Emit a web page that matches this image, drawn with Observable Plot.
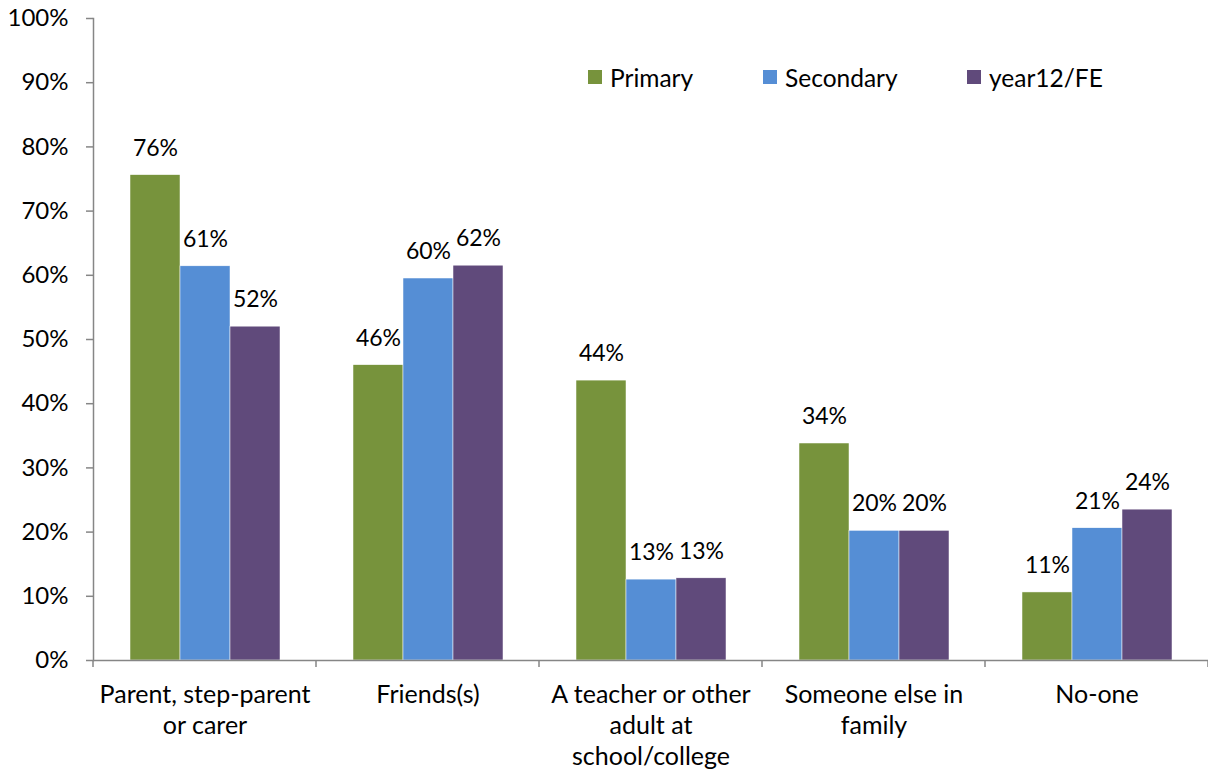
<!DOCTYPE html>
<html><head><meta charset="utf-8">
<script src="https://cdn.jsdelivr.net/npm/d3@7"></script>
<script src="https://cdn.jsdelivr.net/npm/@observablehq/plot@0.6"></script>
<style>
body{margin:0;background:#fff;font-family:Lato,"Open Sans",sans-serif;}
#wrap{position:relative;width:1208px;height:773px;}
.it{position:absolute;top:63px;display:flex;align-items:center;font-size:24.5px;color:#000;height:28px;}
.sw{width:14px;height:14px;margin-right:8px;}
</style></head>
<body><div id="wrap"></div>
<script>
const categories = ["Parent, step-parent\nor carer","Friends(s)","A teacher or other\nadult at\nschool/college","Someone else in\nfamily","No-one"];
const series = ["Primary","Secondary","year12/FE"];
const colors = ["#77933C","#558ED5","#604A7B"];
const primary = [75.6, 46.0, 43.6, 33.8, 10.6];
const secondary = [61.4, 59.5, 12.6, 20.2, 20.6];
const year12 = [52.0, 61.5, 12.8, 20.2, 23.5];
const yTicks = [0,10,20,30,40,50,60,70,80,90,100];

const data = [];
categories.forEach((c,i)=>{
  [primary,secondary,year12].forEach((arr,j)=>data.push({category:c, series:series[j], value:arr[i]}));
});

const plot = Plot.plot({
  width:1208, height:773,
  marginLeft:93, marginRight:0, marginTop:18, marginBottom:113,
  style:{fontFamily:"Lato, 'Open Sans', sans-serif", fontSize:"24px", color:"#000", overflow:"visible"},
  fx:{domain:categories, padding:0, label:null},
  x:{domain:series, paddingInner:0, paddingOuter:0.73, axis:null},
  y:{domain:[0,100], label:null},
  color:{domain:series, range:colors},
  marks:[
    Plot.frame({anchor:"left", stroke:"#868686", strokeWidth:1.5, facetAnchor:"left"}),
    Plot.axisY({ticks:yTicks, tickFormat:d=>d+"%", tickSize:7, tickPadding:18, stroke:"#868686", strokeWidth:1.5, fontSize:24, label:null}),
    Plot.barY(data,{fx:"category", x:"series", y:"value", fill:"series", stroke:"white", strokeWidth:0.5}),
    Plot.text(data,{fx:"category", x:"series", y:"value", text:d=>Math.round(d.value)+"%", dy:-27, fontSize:23, fill:"#000"}),
    Plot.ruleY([0],{stroke:"#868686", strokeWidth:1.5}),
    Plot.axisFx({anchor:"bottom", tickSize:0, tickPadding:20, fontSize:25, lineHeight:1.25, label:null})
  ]
});
document.getElementById("wrap").appendChild(plot);

// boundary ticks at band edges, derived from the fx scale
const fx = plot.scale("fx");
const y = plot.scale("y");
const svg = d3.select(plot);
const y0 = y.apply(0);
const edges = categories.map(c=>fx.apply(c)).concat([fx.apply(categories[categories.length-1])+fx.bandwidth]);
svg.append("g").selectAll("line").data(edges).join("line")
  .attr("x1",d=>d).attr("x2",d=>d).attr("y1",y0).attr("y2",y0+7)
  .attr("stroke","#868686").attr("stroke-width",1.5);

const legendLeft = [588, 763, 967];
const wrap = d3.select("#wrap");
series.forEach((s,i)=>{
  const it = wrap.append("div").attr("class","it").style("left", legendLeft[i]+"px");
  it.append("div").attr("class","sw").style("background",colors[i]);
  it.append("span").text(s);
});
</script></body></html>
